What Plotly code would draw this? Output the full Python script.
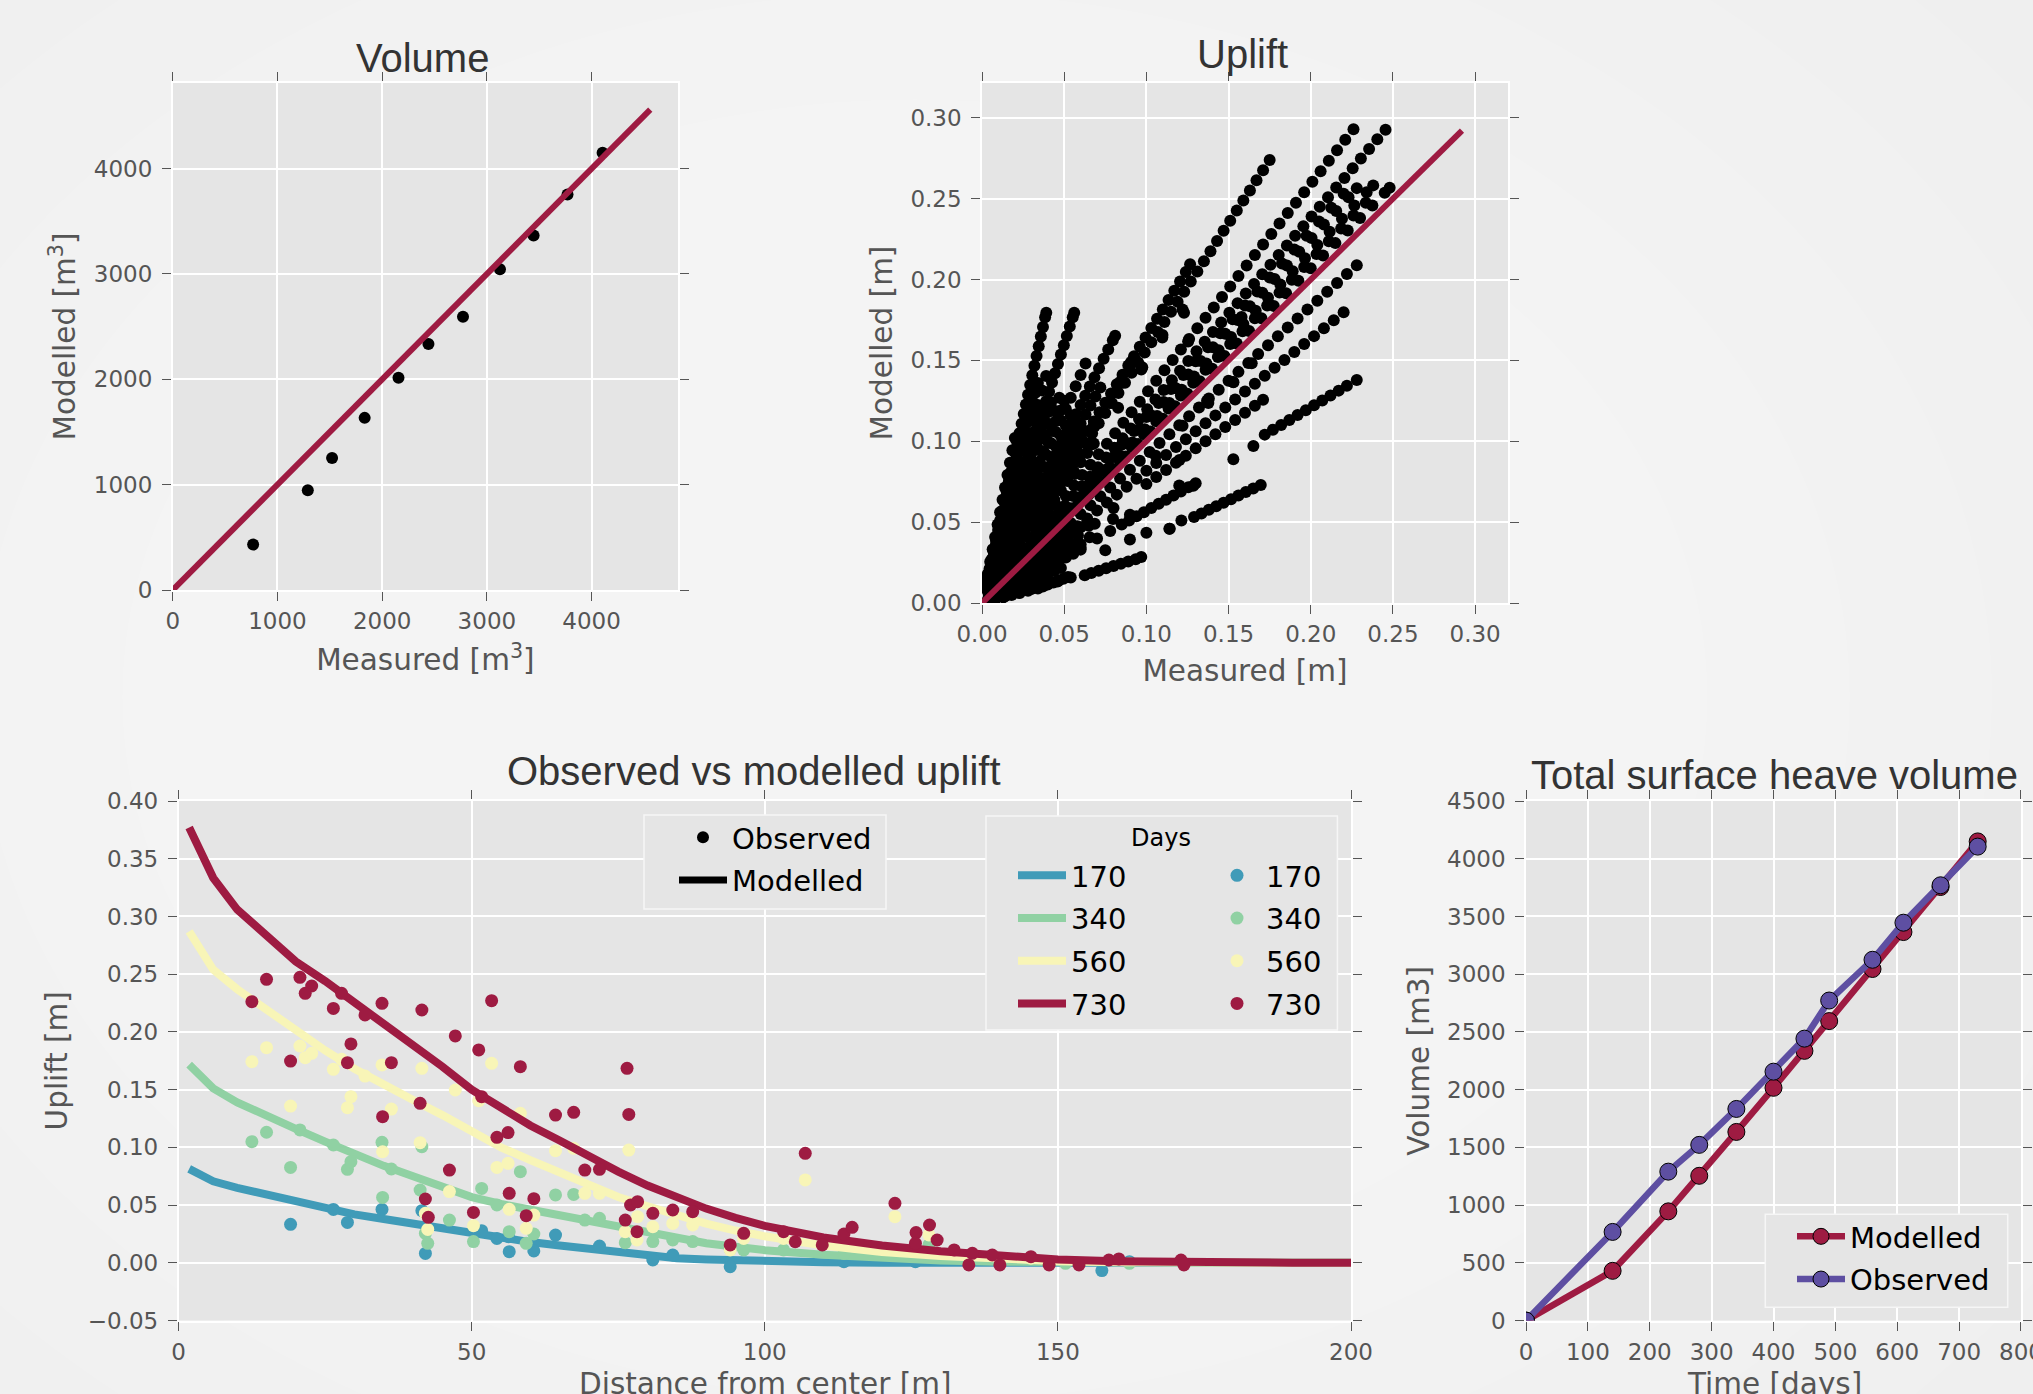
import plotly.graph_objects as go

W, H = 2033, 1394

# ------------------------------------------------------------------ data
days = [0, 140, 230, 280, 340, 400, 450, 490, 560, 610, 670, 730]
volume_modelled = [0, 431, 946, 1254, 1634, 2016, 2336, 2594, 3045, 3365, 3755, 4150]
volume_observed = [0, 768, 1290, 1522, 1833, 2156, 2442, 2772, 3125, 3446, 3770, 4105]
volume_one_to_one = [0, 4560]
uplift_one_to_one = [0, 0.292]

# (measured, modelled) uplift pairs
uplift_points = [
    (.002,.0092),(.0033,.0152),(.0046,.0212),(.0059,.0271),(.0072,.0331),(.0085,.0391),(.0098,.0451),(.0111,.0511),(.0124,.057),(.0137,.063),(.015,.069),(.0163,.075),(.0176,.081),(.0189,.0869),(.0202,.0929),(.0215,.0989),(.0228,.1049),(.0241,.1109),(.0254,.1168),(.0267,.1228),(.028,.1288),(.0293,.1348),(.0306,.1408),(.0319,.1467),(.0332,.1527),(.0345,.1587),(.0358,.1647),(.0371,.1707),(.0384,.1766),(.0391,.1795),
    (.004,.016),(.0055,.022),(.007,.028),(.0085,.034),(.01,.04),(.0115,.046),(.013,.052),(.0145,.058),(.016,.064),(.0175,.07),(.019,.076),(.0205,.082),(.022,.088),(.0235,.094),(.025,.1),(.0265,.106),(.028,.112),(.0295,.118),(.031,.124),(.0325,.13),(.034,.136),
    (.002,.0102),(.0035,.0179),(.005,.0255),(.0065,.0332),(.008,.0408),(.0095,.0485),(.011,.0561),(.0125,.0638),(.014,.0714),(.0155,.0791),(.017,.0867),(.0185,.0944),(.02,.102),
    (.003,.0129),(.0044,.0189),(.0058,.0249),(.0072,.031),(.0086,.037),(.01,.043),(.0114,.049),(.0128,.055),(.0142,.0611),(.0156,.0671),(.017,.0731),(.0184,.0791),(.0198,.0851),(.0212,.0912),(.0226,.0972),(.024,.1032),(.0254,.1092),(.0268,.1152),(.0282,.1213),(.0296,.1273),
    (.003,.0096),(.0048,.0154),(.0066,.0211),(.0084,.0269),(.0102,.0326),(.012,.0384),(.0138,.0442),(.0156,.0499),(.0174,.0557),(.0192,.0614),(.021,.0672),(.0228,.073),(.0246,.0787),(.0264,.0845),(.0282,.0902),(.03,.096),(.0318,.1018),(.0336,.1075),(.0354,.1133),(.0372,.119),(.039,.1248),(.0408,.1306),(.0426,.1363),(.0444,.1421),(.0462,.1478),(.048,.1536),(.0498,.1594),(.0516,.1651),(.0534,.1709),(.0552,.1766),(.0561,.1795),
    (.004,.0144),(.0065,.0234),(.009,.0324),(.0115,.0414),(.014,.0504),(.0165,.0594),(.019,.0684),(.0215,.0774),(.024,.0864),(.0265,.0954),(.029,.1044),(.0315,.1134),(.034,.1224),(.0365,.1314),(.039,.1404),
    (.004,.0136),(.0058,.0197),(.0076,.0258),(.0094,.032),(.0112,.0381),(.013,.0442),(.0148,.0503),(.0166,.0564),(.0184,.0626),(.0202,.0687),(.022,.0748),(.0238,.0809),(.0256,.087),(.0274,.0932),(.0292,.0993),(.031,.1054),(.0328,.1115),(.0346,.1176),
    (.004,.0118),(.006,.0177),(.008,.0236),(.01,.0295),(.012,.0354),(.014,.0413),(.016,.0472),(.018,.0531),(.02,.059),(.022,.0649),(.024,.0708),(.026,.0767),(.028,.0826),(.03,.0885),(.032,.0944),(.034,.1003),(.036,.1062),(.038,.1121),(.04,.118),(.042,.1239),
    (.005,.0135),(.008,.0216),(.011,.0297),(.014,.0378),(.017,.0459),(.02,.054),(.023,.0621),(.026,.0702),(.029,.0783),(.032,.0864),(.035,.0945),(.038,.1026),(.041,.1107),(.044,.1188),(.047,.1269),
    (.005,.0125),(.0075,.0188),(.01,.025),(.0125,.0313),(.015,.0375),(.0175,.0438),(.02,.05),(.0225,.0563),(.025,.0625),(.0275,.0688),(.03,.075),(.0325,.0813),(.035,.0875),(.0375,.0938),(.04,.1),(.0425,.1063),(.045,.1125),(.0475,.1188),(.05,.125),
    (.004,.0082),(.0068,.0139),(.0096,.0196),(.0124,.0253),(.0152,.031),(.018,.0367),(.0208,.0424),(.0236,.0481),(.0264,.0539),(.0292,.0596),(.032,.0653),(.0348,.071),(.0376,.0767),(.0404,.0824),(.0432,.0881),(.046,.0938),(.0488,.0996),(.0516,.1053),(.0544,.111),(.0572,.1167),(.06,.1224),(.0628,.1281),(.0656,.1338),(.0684,.1395),(.0712,.1452),(.074,.151),(.0768,.1567),(.0796,.1624),(.081,.1652),
    (.006,.0141),(.009,.0212),(.012,.0282),(.015,.0353),(.018,.0423),(.021,.0494),(.024,.0564),(.027,.0635),(.03,.0705),(.033,.0776),(.036,.0846),(.039,.0917),(.042,.0987),(.045,.1058),(.048,.1128),(.051,.1199),(.054,.1269),(.057,.134),(.06,.141),(.063,.1481),
    (.006,.0129),(.009,.0194),(.012,.0258),(.015,.0323),(.018,.0387),(.021,.0452),(.024,.0516),(.027,.0581),(.03,.0645),(.033,.071),(.036,.0774),(.039,.0839),(.042,.0903),(.045,.0968),(.048,.1032),(.051,.1097),(.054,.1161),
    (.006,.0111),(.009,.0167),(.012,.0222),(.015,.0278),(.018,.0333),(.021,.0389),(.024,.0444),(.027,.05),(.03,.0555),(.033,.0611),(.036,.0666),(.039,.0722),(.042,.0777),(.045,.0833),(.048,.0888),(.051,.0944),(.054,.0999),(.057,.1055),(.06,.111),(.063,.1166),(.066,.1221),(.069,.1277),(.072,.1332),
    (.006,.0105),(.009,.0158),(.012,.021),(.015,.0263),(.018,.0315),(.021,.0368),(.024,.042),(.027,.0473),(.03,.0525),(.033,.0578),(.036,.063),(.039,.0683),(.042,.0735),(.045,.0788),(.048,.084),(.051,.0893),(.054,.0945),(.057,.0998),(.06,.105),
    (.005,.0083),(.0085,.014),(.012,.0198),(.0155,.0256),(.019,.0314),(.0225,.0371),(.026,.0429),(.0295,.0487),(.033,.0545),(.0365,.0602),(.04,.066),(.0435,.0718),(.047,.0776),(.0505,.0833),(.054,.0891),(.0575,.0949),(.061,.1007),(.0645,.1064),(.068,.1122),(.0715,.118),(.075,.1238),(.0785,.1295),(.082,.1353),(.0855,.1411),(.089,.1469),(.0925,.1526),(.096,.1584),(.0995,.1642),(.103,.17),(.1065,.1757),(.11,.1815),(.1135,.1873),(.117,.1931),(.1205,.1988),(.124,.2046),(.1266,.2094),
    (.031,.0485),(.035,.0548),(.039,.061),(.043,.0673),(.047,.0736),(.051,.0798),(.055,.0861),(.059,.0923),(.063,.0986),(.067,.1049),(.071,.1111),(.075,.1174),(.079,.1236),(.083,.1299),(.087,.1362),(.091,.1424),(.095,.1487),(.099,.1549),(.103,.1612),(.107,.1675),(.111,.1737),(.115,.18),(.119,.1862),(.123,.1925),(.127,.1988),(.131,.205),(.135,.2113),(.139,.2175),(.143,.2238),(.147,.2301),(.151,.2363),(.155,.2426),(.159,.2488),(.163,.2551),(.167,.2614),(.171,.2676),(.175,.2739),
    (.011,.0143),(.016,.0207),(.021,.0272),(.026,.0337),(.031,.0402),(.036,.0467),(.041,.0531),(.046,.0596),(.051,.0661),(.056,.0726),(.061,.0791),(.066,.0855),(.071,.092),(.076,.0985),(.081,.105),(.086,.1115),(.091,.1179),(.096,.1244),(.101,.1309),(.106,.1374),(.111,.1439),(.116,.1503),(.121,.1568),(.126,.1633),(.131,.1698),(.136,.1763),(.141,.1827),(.146,.1892),(.151,.1957),(.156,.2022),(.161,.2087),(.166,.2151),(.171,.2216),(.176,.2281),(.181,.2346),(.186,.2411),(.191,.2475),(.196,.254),(.201,.2605),(.206,.267),(.211,.2735),(.216,.2799),(.221,.2864),(.226,.2929),
    (.0105,.0125),(.0155,.0185),(.0205,.0244),(.0255,.0304),(.0305,.0364),(.0355,.0423),(.0405,.0483),(.0455,.0542),(.0505,.0602),(.0555,.0662),(.0605,.0721),(.0655,.0781),(.0705,.084),(.0755,.09),(.0805,.096),(.0855,.1019),(.0905,.1079),(.0955,.1138),(.1005,.1198),(.1055,.1258),(.1105,.1317),(.1155,.1377),(.1205,.1436),(.1255,.1496),(.1305,.1556),(.1355,.1615),(.1405,.1675),(.1455,.1734),(.1505,.1794),(.1555,.1854),(.1605,.1913),(.1655,.1973),(.1705,.2032),(.1755,.2092),(.1805,.2152),(.1855,.2211),(.1905,.2271),(.1955,.233),(.2005,.239),(.2055,.245),(.2105,.2509),(.2155,.2569),(.2205,.2628),(.2255,.2688),(.2305,.2748),(.2355,.2807),(.2405,.2867),(.2455,.2926),
    (.0625,.0719),(.07,.0805),(.0775,.0891),(.085,.0978),(.0925,.1064),(.1,.115),(.1075,.1236),(.115,.1323),(.1225,.1409),(.13,.1495),(.1375,.1581),(.145,.1668),(.1525,.1754),(.16,.184),(.1675,.1926),(.175,.2013),(.1825,.2099),(.19,.2185),(.1975,.2271),(.205,.2358),(.2125,.2444),(.22,.253),
    (.028,.0315),(.0355,.0399),(.043,.0484),(.0505,.0568),(.058,.0653),(.0655,.0737),(.073,.0821),(.0805,.0906),(.088,.099),(.0955,.1074),(.103,.1159),(.1105,.1243),(.118,.1328),(.1255,.1412),(.133,.1496),(.1405,.1581),(.148,.1665),(.1555,.1749),(.163,.1834),(.1705,.1918),(.178,.2003),(.1855,.2087),(.193,.2171),(.2005,.2256),(.208,.234),(.2155,.2424),(.223,.2509),(.228,.2565),
    (.024,.026),(.0315,.0342),(.039,.0423),(.0465,.0505),(.054,.0586),(.0615,.0667),(.069,.0749),(.0765,.083),(.084,.0911),(.0915,.0993),(.099,.1074),(.1065,.1156),(.114,.1237),(.1215,.1318),(.129,.14),(.1365,.1481),(.144,.1562),(.1515,.1644),(.159,.1725),(.1665,.1807),(.174,.1888),(.1815,.1969),(.189,.2051),(.1965,.2132),(.204,.2213),(.2115,.2295),(.219,.2376),(.2265,.2458),(.234,.2539),(.238,.2582),
    (.0535,.0567),(.061,.0647),(.0685,.0726),(.076,.0806),(.0835,.0885),(.091,.0965),(.0985,.1044),(.106,.1124),(.1135,.1203),(.121,.1283),(.1285,.1362),(.136,.1442),(.1435,.1521),(.151,.1601),(.1585,.168),(.166,.176),(.1735,.1839),(.181,.1919),(.1885,.1998),(.196,.2078),(.2035,.2157),(.211,.2237),(.2185,.2316),(.226,.2396),(.2335,.2475),
    (.02,.0207),(.0275,.0285),(.035,.0362),(.0425,.044),(.05,.0518),(.0575,.0595),(.065,.0673),(.0725,.075),(.08,.0828),(.0875,.0906),(.095,.0983),(.1025,.1061),(.11,.1139),(.1175,.1216),(.125,.1294),(.1325,.1371),(.14,.1449),(.1475,.1527),(.155,.1604),(.1625,.1682),(.17,.176),(.1775,.1837),(.185,.1915),(.1925,.1992),(.2,.207),(.2075,.2148),(.215,.2225),(.2225,.2303),(.23,.2381),(.2375,.2458),(.245,.2536),(.248,.2567),
    (.005,.006),(.009,.0108),(.013,.0156),(.017,.0204),(.021,.0252),(.025,.03),(.029,.0348),(.033,.0396),(.037,.0444),(.041,.0492),(.045,.054),(.049,.0588),
    (.012,.011),(.018,.0165),(.024,.022),(.03,.0275),(.036,.033),(.042,.0385),(.048,.044),(.054,.0495),(.06,.055),(.066,.0605),(.072,.066),(.078,.0714),(.084,.0769),(.09,.0824),(.096,.0879),(.102,.0934),(.108,.0989),(.114,.1044),(.12,.1099),(.126,.1154),(.132,.1209),(.138,.1264),(.144,.1319),(.15,.1374),(.156,.1429),(.162,.1484),(.168,.1539),(.174,.1594),(.18,.1649),(.186,.1704),(.192,.1759),(.198,.1814),(.204,.1869),(.21,.1924),(.216,.1979),(.222,.2034),(.228,.2088),
    (.006,.0054),(.01,.009),(.014,.0126),(.018,.0162),(.022,.0198),(.026,.0234),(.03,.027),(.034,.0306),(.038,.0342),(.042,.0378),(.046,.0414),(.05,.045),
    (.016,.0131),(.022,.018),(.028,.0229),(.034,.0278),(.04,.0327),(.046,.0376),(.052,.0425),(.058,.0474),(.064,.0523),(.07,.0572),(.076,.0621),(.082,.067),(.088,.0719),(.094,.0768),(.1,.0817),(.106,.0866),(.112,.0915),(.118,.0964),(.124,.1013),(.13,.1062),(.136,.1111),(.142,.116),(.148,.1209),(.154,.1258),(.16,.1307),(.166,.1356),(.172,.1405),(.178,.1454),(.184,.1503),(.19,.1552),(.196,.1601),(.202,.165),(.208,.1699),(.214,.1748),(.22,.1797),
    (.02,.0147),(.035,.0257),(.05,.0368),(.065,.0478),(.08,.0588),(.1,.0735),(.106,.0779),(.112,.0823),(.118,.0867),(.124,.0911),(.13,.0956),(.136,.1),(.142,.1044),(.148,.1088),(.154,.1132),(.16,.1176),(.166,.122),(.171,.1257),
    (.03,.0182),(.06,.0363),(.09,.0545),(.12,.0726),(.1529,.0889),(.1651,.0971),(.172,.1041),(.177,.1071),(.182,.1101),(.187,.1131),(.192,.1162),(.197,.1192),(.202,.1222),(.207,.1252),(.212,.1283),(.217,.1313),(.222,.1343),(.228,.1379),
    (.01,.0057),(.02,.0114),(.03,.0171),(.04,.0228),(.05,.0285),(.06,.0342),(.07,.0399),(.078,.0445),(.085,.0485),(.0895,.051),(.094,.0536),(.0985,.0561),(.103,.0587),(.1075,.0613),(.112,.0638),(.1165,.0664),(.121,.069),(.1255,.0715),(.13,.0741),
    (.006,.0033),(.0105,.0058),(.015,.0083),(.0195,.0107),(.024,.0132),(.0285,.0157),(.033,.0182),(.0375,.0206),(.042,.0231),(.0465,.0256),(.051,.0281),(.0555,.0305),(.06,.033),
    (.075,.0326),(.09,.0392),(.1,.0435),(.114,.0459),(.1213,.051),(.129,.0532),(.1335,.0554),(.138,.0576),(.1425,.0598),(.147,.062),(.1515,.0642),(.156,.0664),(.1605,.0686),(.165,.0708),(.1696,.0729),
    (.006,.0017),(.014,.0041),(.022,.0064),(.03,.0087),(.038,.011),(.046,.0133),(.054,.0157),(.0625,.0172),(.0665,.0186),(.071,.02),(.0755,.0215),(.08,.0229),(.0845,.0243),(.089,.0257),(.0935,.0271),(.0969,.0284),
    (.003,.0008),(.008,.0022),(.013,.0035),(.018,.0049),(.023,.0062),(.028,.0076),(.034,.009),(.037,.0102),(.04,.0114),(.0435,.0126),(.0465,.0138),(.0495,.015),(.0523,.0161),
    (.004,.0018),(.008,.0036),(.012,.0054),(.016,.0072),(.02,.009),(.024,.0108),(.028,.0126),(.032,.0144),(.036,.0162),(.04,.018),(.044,.0198),(.048,.0216),
    (.004,.0026),(.008,.0052),(.012,.0078),(.016,.0104),(.02,.013),(.024,.0156),(.028,.0182),(.032,.0208),(.036,.0234),(.04,.026),(.044,.0286),(.048,.0312),(.052,.0338),(.056,.0364),
    (.004,.0031),(.008,.0062),(.012,.0094),(.016,.0125),(.02,.0156),(.024,.0187),(.028,.0218),(.032,.025),(.036,.0281),(.04,.0312),(.044,.0343),(.048,.0374),(.052,.0406),(.056,.0437),(.06,.0468),(.064,.0499),
    (.004,.0058),(.008,.0116),(.012,.0174),(.016,.0232),(.02,.029),(.024,.0348),(.028,.0406),(.032,.0464),(.036,.0522),(.04,.058),(.044,.0638),(.048,.0696),(.052,.0754),(.056,.0812),(.06,.087),(.064,.0928),(.068,.0986),
    (.004,.0014),(.008,.0028),(.012,.0042),(.016,.0056),(.02,.007),(.024,.0084),(.028,.0098),(.032,.0112),(.036,.0126),(.04,.014),
    (.122,.1815),(.1098,.1657),(.084,.1367),(.0677,.109),(.0663,.0994),(.0581,.0911),(.0907,.149),(.0975,.1458),(.1527,.1367),(.1369,.1251),(.122,.1096),(.1057,.0911),(.1201,.0884),(.1641,.1483),(.1579,.1768),(.0908,.1483),(.0848,.136),(.0777,.1237),(.0828,.1207),(.0686,.1094),(.0669,.0982),(.0574,.091),(.0564,.0797),(.0686,.049),(.0584,.0418),(.0797,.052),(.0655,.0407),(.1142,.0459),(.1229,.1795),(.1097,.1641),(.153,.1365),(.1377,.1237),(.1286,.0725),(.1254,.1617),(.0969,.1443),
]

profile_distance = [1.8, 5.9, 10, 15, 20, 25, 30, 35, 40, 45, 50, 55, 60, 65, 70, 75, 80, 85, 90, 95,
                    100, 110, 120, 130, 140, 150, 160, 170, 180, 190, 200]
model_170 = [0.0814, 0.0706, 0.065, 0.059, 0.053, 0.0473, 0.042, 0.038, 0.034, 0.029, 0.025, 0.021, 0.018,
             0.015, 0.012, 0.009, 0.006, 0.004, 0.003, 0.002, 0.001, 0.0005, 0.0002, 0.0, 0.0, 0.0, 0.0,
             0.0, 0.0, 0.0, 0.0]
model_340 = [0.1717, 0.1511, 0.139, 0.127, 0.116, 0.105, 0.094, 0.084, 0.075, 0.066, 0.057, 0.051, 0.046,
             0.041, 0.036, 0.031, 0.027, 0.021, 0.017, 0.014, 0.011, 0.007, 0.004, 0.002, 0.001, 0.0005,
             0.0002, 0.0, 0.0, 0.0, 0.0]
model_560 = [0.287, 0.254, 0.237, 0.219, 0.200, 0.184, 0.168, 0.154, 0.141, 0.128, 0.114, 0.100, 0.089,
             0.078, 0.067, 0.057, 0.049, 0.041, 0.034, 0.028, 0.023, 0.015, 0.0095, 0.006, 0.0035, 0.0015,
             0.0006, 0.0002, 0.0001, 0.0, 0.0]
model_730 = [0.377, 0.3335, 0.306, 0.284, 0.261, 0.244, 0.226, 0.208, 0.188, 0.170, 0.150, 0.134, 0.119,
             0.106, 0.092, 0.079, 0.067, 0.057, 0.047, 0.039, 0.032, 0.022, 0.015, 0.010, 0.006, 0.003,
             0.0015, 0.0005, 0.0002, 0.0001, 0.0]

obs_170_dist = [19.1, 26.4, 28.8, 34.7, 41.5, 42.1, 51.7, 54.3, 56.4, 60.6, 64.3, 56.3, 71.8, 80.9, 84.3,
                94.1, 113.5, 157.5, 125.7, 162.2]
obs_170_uplift = [0.0334, 0.0463, 0.035, 0.0463, 0.0452, 0.0082, 0.0279, 0.0212, 0.0097, 0.0103, 0.0241,
                  0.0227, 0.0146, 0.0025, 0.0068, -0.0033, 0.001, -0.0067, 0.001, 0.001]
obs_340_dist = [12.5, 15.0, 20.7, 19.1, 26.4, 28.8, 29.4, 34.7, 36.3, 34.8, 41.5, 41.2, 42.1, 42.5, 46.2,
                50.3, 51.7, 54.3, 56.4, 58.3, 60.6, 59.3, 64.3, 67.4, 69.3, 71.8, 76.2, 80.9, 84.3, 87.7,
                94.1, 96.4, 103.2, 113.5, 128.0, 151.3, 162.2]
obs_340_uplift = [0.105, 0.1131, 0.1151, 0.0827, 0.1021, 0.081, 0.0876, 0.1044, 0.0813, 0.0567, 0.1006,
                  0.0631, 0.0256, 0.0169, 0.0371, 0.0184, 0.0645, 0.0501, 0.027, 0.079, 0.025, 0.0169,
                  0.0588, 0.0593, 0.0371, 0.0386, 0.0175, 0.0184, 0.0198, 0.0184, 0.0117, 0.0112, 0.0112,
                  0.0082, 0.0155, -0.0004, -0.0004]
obs_560_dist = [12.5, 15.0, 20.7, 21.6, 22.7, 26.4, 27.8, 31.8, 34.7, 41.5, 47.2, 51.2, 53.4, 58.3, 19.1,
                28.8, 29.4, 36.3, 34.8, 41.2, 64.3, 54.3, 56.2, 46.2, 42.1, 42.5, 50.3, 56.4, 60.6, 59.3,
                67.4, 76.8, 69.3, 71.8, 78.3, 76.2, 78.2, 80.9, 84.3, 87.7, 94.1, 96.4, 103.2, 106.9, 113.5,
                122.2, 128.0, 132.3, 145.4]
obs_560_uplift = [0.1742, 0.1864, 0.1878, 0.1777, 0.1815, 0.1676, 0.1763, 0.1618, 0.1714, 0.1685, 0.1497,
                  0.1405, 0.1728, 0.1295, 0.1358, 0.1344, 0.1439, 0.1332, 0.0963, 0.1041, 0.0972, 0.0827,
                  0.0862, 0.0617, 0.0429, 0.029, 0.0322, 0.0464, 0.0414, 0.0299, 0.0992, 0.0977, 0.0602,
                  0.0602, 0.04, 0.027, 0.0198, 0.0313, 0.0342, 0.0328, 0.0112, 0.0212, 0.0212, 0.0718,
                  0.0204, 0.04, 0.0242, 0.009, 0.004]
obs_730_dist = [12.5, 15.0, 20.7, 22.7, 21.6, 27.8, 26.4, 31.8, 34.7, 41.5, 47.2, 51.2, 53.4, 58.3, 29.4,
                19.1, 28.8, 36.3, 34.8, 41.2, 51.7, 54.3, 56.2, 64.3, 46.2, 42.1, 42.6, 50.3, 56.4, 60.6,
                59.3, 67.4, 76.5, 76.8, 69.3, 71.8, 77.1, 78.3, 76.2, 78.2, 80.9, 84.3, 87.7, 94.1, 96.4,
                103.2, 105.2, 106.9, 109.8, 113.5, 114.9, 122.2, 125.8, 128.1, 129.4, 125.7, 132.3, 135.4,
                138.8, 145.4, 134.8, 140.1, 148.5, 153.6, 158.7, 160.4, 171.0, 171.5]
obs_730_uplift = [0.2262, 0.2456, 0.2473, 0.2398, 0.2334, 0.2334, 0.2204, 0.2147, 0.2248, 0.219, 0.1965,
                  0.1844, 0.2271, 0.1699, 0.1896, 0.1748, 0.1734, 0.1734, 0.1266, 0.1382, 0.1439, 0.1087,
                  0.1128, 0.128, 0.0804, 0.0553, 0.0394, 0.0437, 0.0602, 0.0556, 0.0409, 0.1304, 0.1685,
                  0.1286, 0.0804, 0.081, 0.0501, 0.053, 0.0371, 0.027, 0.0429, 0.0458, 0.0443, 0.0155,
                  0.0256, 0.027, 0.0183, 0.0949, 0.0155, 0.025, 0.0308, 0.0516, 0.0262, 0.0328, 0.0198,
                  0.0169, 0.0112, 0.0083, 0.0068, 0.0054, -0.0018, -0.0018, -0.0018, -0.0018, 0.0025,
                  0.0034, 0.0025, -0.0018]

day_labels = ["170", "340", "560", "730"]

# ------------------------------------------------------------------ style
CRIMSON = "#9e1b42"
PURPLE = "#5e4fa2"
DAY_COLORS = ["#409bb8", "#90d1a3", "#f8f5b7", "#9e1b42"]
PLOT_BG = "#e5e5e5"
TICK = "#555555"


def px_x(px):
    return px / W


def px_y(py):
    return 1 - py / H


fig = go.Figure()

# ---- Volume panel
fig.add_trace(go.Scatter(x=volume_observed[1:], y=volume_modelled[1:], mode="markers",
                         marker=dict(color="black", size=12), xaxis="x", yaxis="y", showlegend=False))
fig.add_trace(go.Scatter(x=volume_one_to_one, y=volume_one_to_one, mode="lines",
                         line=dict(color=CRIMSON, width=6), xaxis="x", yaxis="y", showlegend=False))

# ---- Uplift panel
fig.add_trace(go.Scatter(x=[p[0] for p in uplift_points], y=[p[1] for p in uplift_points], mode="markers",
                         marker=dict(color="black", size=12), xaxis="x2", yaxis="y2", showlegend=False))
fig.add_trace(go.Scatter(x=uplift_one_to_one, y=uplift_one_to_one, mode="lines",
                         line=dict(color=CRIMSON, width=6), xaxis="x2", yaxis="y2", showlegend=False))

# ---- Observed vs modelled uplift
models = [model_170, model_340, model_560, model_730]
obs_d = [obs_170_dist, obs_340_dist, obs_560_dist, obs_730_dist]
obs_u = [obs_170_uplift, obs_340_uplift, obs_560_uplift, obs_730_uplift]
for lab, col, mod, od, ou in zip(day_labels, DAY_COLORS, models, obs_d, obs_u):
    fig.add_trace(go.Scatter(x=profile_distance, y=mod, mode="lines", name=lab, legendgroup="l" + lab,
                             line=dict(color=col, width=8), xaxis="x3", yaxis="y3", legend="legend2"))
    fig.add_trace(go.Scatter(x=od, y=ou, mode="markers", name=lab, legendgroup="d" + lab,
                             marker=dict(color=col, size=13), xaxis="x3", yaxis="y3", legend="legend3"))

fig.add_trace(go.Scatter(x=[None], y=[None], mode="markers", name="Observed", legendgroup="obs",
                         marker=dict(color="black", size=12), xaxis="x3", yaxis="y3", legend="legend"))
fig.add_trace(go.Scatter(x=[None], y=[None], mode="lines", name="Modelled", legendgroup="mod",
                         line=dict(color="black", width=7), xaxis="x3", yaxis="y3", legend="legend"))

# ---- Total surface heave volume
fig.add_trace(go.Scatter(x=days, y=volume_modelled, mode="lines+markers", name="Modelled", legendgroup="m",
                         line=dict(color=CRIMSON, width=6.5),
                         marker=dict(color=CRIMSON, size=17, line=dict(color="black", width=1)),
                         xaxis="x4", yaxis="y4", legend="legend4"))
fig.add_trace(go.Scatter(x=days, y=volume_observed, mode="lines+markers", name="Observed", legendgroup="o",
                         line=dict(color=PURPLE, width=6.5),
                         marker=dict(color=PURPLE, size=17, line=dict(color="black", width=1)),
                         xaxis="x4", yaxis="y4", legend="legend4"))

# ------------------------------------------------------------------ axes
def axis(**kw):
    base = dict(
        showgrid=True, gridcolor="white", gridwidth=1.5, zeroline=False, automargin=False,
        showline=True, linecolor="white", linewidth=1.5, mirror="ticks",
        ticks="outside", ticklen=9, tickwidth=1, tickcolor=TICK, ticklabeloverflow="allow",
        tickfont=dict(family="DejaVu Sans", size=23, color=TICK),
        title_font=dict(family="DejaVu Sans", size=29.5, color=TICK),
    )
    base.update(kw)
    return base


vol_x_range = [0, 4825]
vol_y_range = [0, 4813]
up_x_range = [0, 0.32]
up_y_range = [0, 0.3215]
pr_x_range = [0, 200]
pr_y_range = [-0.05, 0.40]
tv_x_range = [0, 800.01]
tv_y_range = [0, 4500]

fig.update_layout(
    xaxis=axis(domain=[px_x(172.7), px_x(678)], range=vol_x_range, dtick=1000, anchor="y",
               title=dict(text="Measured [m<sup>3</sup>]", standoff=16), ticklabelstandoff=1),
    yaxis=axis(domain=[px_y(590), px_y(83)], range=vol_y_range, dtick=1000, anchor="x",
               title=dict(text="Modelled [m<sup>3</sup>]", standoff=9), ticklabelstandoff=5),
    xaxis2=axis(domain=[px_x(982), px_x(1508)], range=up_x_range, dtick=0.05, tickformat=".2f", anchor="y2",
                title=dict(text="Measured [m]", standoff=14), ticklabelstandoff=1),
    yaxis2=axis(domain=[px_y(603), px_y(83)], range=up_y_range, dtick=0.05, tickformat=".2f", anchor="x2",
                title=dict(text="Modelled [m]", standoff=9), ticklabelstandoff=5),
    xaxis3=axis(domain=[px_x(178.6), px_x(1351)], range=pr_x_range, dtick=50, anchor="y3",
                ticklabelstandoff=1),
    yaxis3=axis(domain=[px_y(1320.6), px_y(801)], range=pr_y_range, dtick=0.05, tickformat=".2f", anchor="x3",
                title=dict(text="Uplift [m]", standoff=11), ticklabelstandoff=5),
    xaxis4=axis(domain=[px_x(1526), px_x(2021)], range=tv_x_range, tickvals=[0, 100, 200, 300, 400, 500, 600, 700, 800],
                anchor="y4", ticklabelstandoff=1),
    yaxis4=axis(domain=[px_y(1320.6), px_y(801)], range=tv_y_range, dtick=500, anchor="x4",
                title=dict(text="Volume [m3]", standoff=9), ticklabelstandoff=5),
)

# ------------------------------------------------------------------ legends
leg = dict(bgcolor="rgba(0,0,0,0)", borderwidth=0, xanchor="left", yanchor="top",
           font=dict(family="DejaVu Sans", size=29, color="black"), itemwidth=48,
           tracegroupgap=2, itemclick=False, itemdoubleclick=False)
fig.update_layout(
    showlegend=True,
    legend=dict(leg, x=px_x(674), y=px_y(812)),
    legend2=dict(leg, x=px_x(1013), y=px_y(850)),
    legend3=dict(leg, x=px_x(1208), y=px_y(850)),
    legend4=dict(leg, x=px_x(1792), y=px_y(1211)),
)

# ------------------------------------------------------------------ shapes
shapes = []
# soft background gradient
for i in range(12):
    r = 0.95 - i * 0.07
    shapes.append(dict(type="circle", xref="paper", yref="paper", layer="below",
                       x0=0.45 - r, x1=0.45 + r, y0=0.5 - r * 1.1, y1=0.5 + r * 1.1,
                       fillcolor="white", opacity=0.08, line=dict(width=0)))
# plot-area backgrounds
for xr, yr, rx, ry in [("x", "y", vol_x_range, vol_y_range), ("x2", "y2", up_x_range, up_y_range),
                       ("x3", "y3", pr_x_range, pr_y_range), ("x4", "y4", tv_x_range, tv_y_range)]:
    shapes.append(dict(type="rect", xref=xr, yref=yr, layer="below", x0=rx[0], x1=rx[1], y0=ry[0], y1=ry[1],
                       fillcolor=PLOT_BG, line=dict(width=0)))
# legend frames
for x0, x1, y0, y1 in [(644, 886, 815, 909), (986, 1337.4, 816, 1030), (1765.3, 2007.7, 1214.2, 1307.3)]:
    shapes.append(dict(type="rect", xref="paper", yref="paper", layer="above",
                       x0=px_x(x0), x1=px_x(x1), y0=px_y(y1), y1=px_y(y0),
                       fillcolor=PLOT_BG, line=dict(color="#f6f6f6", width=1.5)))

title_font = dict(family="Liberation Sans", size=40, color="#333333")
axis_title_font = dict(family="DejaVu Sans", size=29.5, color=TICK)
annotations = [
    dict(text="Volume", x=px_x(422.7), y=px_y(58), xref="paper", yref="paper", showarrow=False,
         xanchor="center", yanchor="middle", font=title_font),
    dict(text="Uplift", x=px_x(1242), y=px_y(54), xref="paper", yref="paper", showarrow=False,
         xanchor="center", yanchor="middle", font=title_font),
    dict(text="Observed vs modelled uplift", x=px_x(754), y=px_y(771), xref="paper", yref="paper",
         showarrow=False, xanchor="center", yanchor="middle", font=title_font),
    dict(text="Total surface heave volume", x=px_x(1774), y=px_y(775), xref="paper", yref="paper",
         showarrow=False, xanchor="center", yanchor="middle", font=title_font),
    dict(text="Days", x=px_x(1161), y=px_y(838), xref="paper", yref="paper", showarrow=False,
         xanchor="center", yanchor="middle", font=dict(family="DejaVu Sans", size=24, color="black")),
    dict(text="Distance from center [m]", x=px_x(765), y=px_y(1384), xref="paper", yref="paper",
         showarrow=False, xanchor="center", yanchor="middle", font=axis_title_font),
    dict(text="Time [days]", x=px_x(1774), y=px_y(1384), xref="paper", yref="paper",
         showarrow=False, xanchor="center", yanchor="middle", font=axis_title_font),
]

fig.update_layout(
    width=W, height=H, autosize=False, margin=dict(l=0, r=0, t=0, b=0, pad=0, autoexpand=False),
    paper_bgcolor="#ebebeb", plot_bgcolor="rgba(0,0,0,0)",
    shapes=shapes, annotations=annotations, hovermode=False,
)

fig.write_html("out.html", config={"displayModeBar": False},
               post_script="document.body.style.margin='0';document.body.style.overflow='hidden';")
